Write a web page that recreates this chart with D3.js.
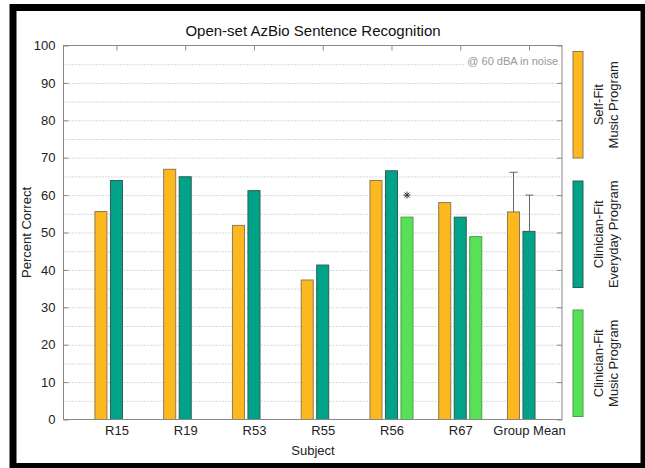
<!DOCTYPE html>
<html>
<head>
<meta charset="utf-8">
<script src="https://cdn.jsdelivr.net/npm/d3@7"></script>
<style>
  html, body { margin: 0; padding: 0; background: #fff; }
  svg { display: block; font-family: "Liberation Sans", Arial, sans-serif; }
</style>
</head>
<body>
<svg id="chart" width="645" height="468"></svg>
<script>
const categories = ["R15", "R19", "R53", "R55", "R56", "R67", "Group Mean"];
const selfFitMusic = [55.6, 66.9, 51.9, 37.3, 63.9, 58.0, 55.5];
const clinicianEveryday = [63.9, 64.9, 61.2, 41.3, 66.5, 54.1, 50.3];
const clinicianMusic = [null, null, null, null, 54.1, 48.9, null];
// upper error bar (SD) on the group means, by series index
const groupMeanSD = [10.6, 9.7, null];
const seriesNames = [["Self-Fit", "Music Program"], ["Clinician-Fit", "Everyday Program"], ["Clinician-Fit", "Music Program"]];
const seriesColors = ["#fdb81f", "#00a38a", "#57e157"];
const yTicks = [0, 10, 20, 30, 40, 50, 60, 70, 80, 90, 100];
const yGrid = d3.range(5, 100, 5);
// significance marker: R56, third series, at 60
const starMarks = [{ cat: "R56", series: 2, value: 60 }];

const svg = d3.select("#chart");

/* outer frame */
svg.append("rect")
  .attr("x", 13).attr("y", 7.5)
  .attr("width", 631).attr("height", 459)
  .attr("fill", "none").attr("stroke", "#000").attr("stroke-width", 7);

const L = 63.5, R = 562, T = 45.5, B = 419.5;

const x = d3.scaleLinear().domain([0.23, 7.48]).range([L, R]);
const y = d3.scaleLinear().domain([0, 100]).range([B, T]);

const OFF = 0.2256, BW = 0.175;

const g = svg.append("g");

/* grid */
g.append("g").selectAll("line").data(yGrid).join("line")
  .attr("x1", L).attr("x2", R)
  .attr("y1", d => y(d) + 0.5).attr("y2", d => y(d) + 0.5)
  .attr("stroke", "#b4b4b4").attr("stroke-width", 1)
  .attr("stroke-dasharray", "1,2");

/* annotation with white backing */
const note = g.append("text")
  .attr("x", 558).attr("y", 65)
  .attr("text-anchor", "end")
  .attr("font-size", 11).attr("fill", "#999")
  .text("@ 60 dBA in noise");
const bb = note.node().getBBox();
g.insert("rect", "text")
  .attr("x", bb.x - 2).attr("y", bb.y).attr("width", bb.width + 3).attr("height", bb.height)
  .attr("fill", "#fff");

/* bars */
const seriesData = [selfFitMusic, clinicianEveryday, clinicianMusic];
const bars = [];
seriesData.forEach((vals, s) => {
  vals.forEach((v, i) => {
    if (v != null) bars.push({ s, i, v });
  });
});
const edges = ["#8c7a55", "#2f5e52", "#4f9a4f"];
g.append("g").selectAll("rect").data(bars).join("rect")
  .attr("x", d => x(d.i + 1 + (d.s - 1) * OFF - BW / 2))
  .attr("width", d => x(BW) - x(0))
  .attr("y", d => y(d.v))
  .attr("height", d => y(0) - y(d.v))
  .attr("fill", d => seriesColors[d.s])
  .attr("stroke", d => edges[d.s]).attr("stroke-width", 1);

/* error bars on group mean */
const gm = categories.indexOf("Group Mean");
const errs = groupMeanSD.map((sd, s) => ({ s, sd, v: seriesData[s][gm] })).filter(d => d.sd != null);
const eg = g.append("g").attr("stroke", "#666").attr("stroke-width", 1);
errs.forEach(d => {
  const cx = Math.round(x(gm + 1 + (d.s - 1) * OFF)) + 0.5;
  eg.append("line").attr("x1", cx).attr("x2", cx).attr("y1", y(d.v)).attr("y2", y(d.v + d.sd));
  eg.append("line").attr("x1", cx - 4).attr("x2", cx + 4).attr("y1", y(d.v + d.sd)).attr("y2", y(d.v + d.sd));
});

/* asterisk markers */
starMarks.forEach(m => {
  const cx = x(categories.indexOf(m.cat) + 1 + (m.series - 1) * OFF);
  const cy = y(m.value);
  const r = 3.5, q = r * 0.72;
  g.append("path")
    .attr("d", `M${cx - r},${cy}H${cx + r}M${cx},${cy - r}V${cy + r}M${cx - q},${cy - q}L${cx + q},${cy + q}M${cx - q},${cy + q}L${cx + q},${cy - q}`)
    .attr("stroke", "#333").attr("stroke-width", 1).attr("fill", "none");
});

/* axes box and ticks */
g.append("rect")
  .attr("x", L).attr("y", T).attr("width", R - L).attr("height", B - T)
  .attr("fill", "none").attr("stroke", "#888").attr("stroke-width", 1);

const yAxisL = d3.axisLeft(y).tickValues(yTicks).tickSize(-5).tickPadding(8);
g.append("g").attr("transform", `translate(${L},0)`).call(yAxisL)
  .call(a => a.select(".domain").remove())
  .call(a => a.selectAll("line").attr("stroke", "#888"))
  .call(a => a.selectAll("text").attr("font-size", 13).attr("fill", "#222").attr("font-family", "Liberation Sans, Arial, sans-serif"));

g.append("g").attr("transform", `translate(${R},0)`).call(d3.axisRight(y).tickValues(yTicks).tickSize(-5).tickFormat(""))
  .call(a => a.select(".domain").remove())
  .call(a => a.selectAll("line").attr("stroke", "#888"));

const xTickVals = categories.map((c, i) => i + 1);
g.append("g").attr("transform", `translate(0,${T})`)
  .call(d3.axisTop(x).tickValues(xTickVals).tickSize(-5).tickFormat(""))
  .call(a => a.select(".domain").remove())
  .call(a => a.selectAll("line").attr("stroke", "#888"));

g.append("g").attr("transform", `translate(0,${B})`)
  .call(d3.axisBottom(x).tickValues(xTickVals).tickSize(0).tickPadding(6).tickFormat((d, i) => categories[i]))
  .call(a => a.select(".domain").remove())
  .call(a => a.selectAll("text").attr("font-size", 13).attr("fill", "#222").attr("font-family", "Liberation Sans, Arial, sans-serif"));

/* titles */
svg.append("text").attr("x", 313).attr("y", 36).attr("text-anchor", "middle")
  .attr("font-size", 15).attr("fill", "#111").text("Open-set AzBio Sentence Recognition");
svg.append("text").attr("x", 313).attr("y", 455).attr("text-anchor", "middle")
  .attr("font-size", 13).attr("fill", "#222").text("Subject");
svg.append("text").attr("transform", `translate(31,${(T + B) / 2}) rotate(-90)`).attr("text-anchor", "middle")
  .attr("font-size", 13).attr("fill", "#222").text("Percent Correct");

/* legend */
const legTops = [51.5, 181, 310];
const legH = 106.5;
const lg = svg.append("g");
seriesNames.forEach((names, s) => {
  lg.append("rect")
    .attr("x", 573).attr("y", legTops[s]).attr("width", 10).attr("height", legH)
    .attr("fill", seriesColors[s]).attr("stroke", edges[s]).attr("stroke-width", 1);
  const cy = legTops[s] + legH / 2;
  const t = lg.append("text")
    .attr("transform", `translate(606,${cy}) rotate(-90)`)
    .attr("text-anchor", "middle").attr("font-size", 13).attr("fill", "#222");
  t.append("tspan").attr("x", 0).attr("dy", "-0.2em").text(names[0]);
  t.append("tspan").attr("x", 0).attr("dy", "1.1em").text(names[1]);
});
</script>
</body>
</html>
